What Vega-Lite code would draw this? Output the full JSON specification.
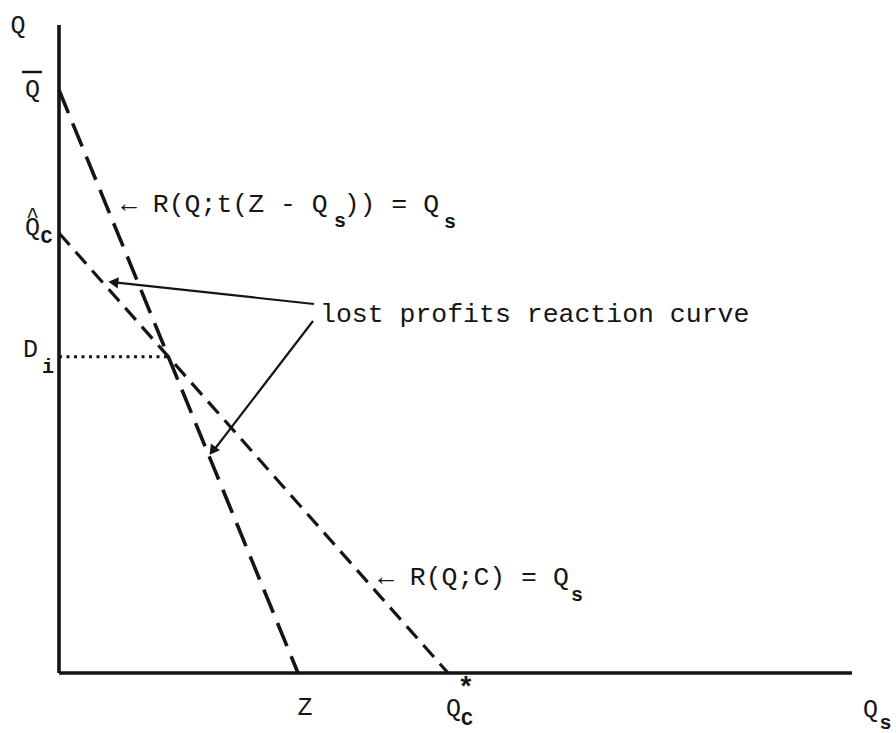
{
  "$schema": "https://vega.github.io/schema/vega-lite/v6.json",
  "width": 896,
  "height": 733,
  "padding": 0,
  "autosize": {"type": "fit", "contains": "padding"},
  "background": "white",
  "config": {
    "view": {"stroke": null},
    "text": {"font": "Liberation Mono", "color": "#161616"}
  },
  "datasets": {
    "axes": [
      {"x": 0, "y": 0, "x2": 0, "y2": 64.8},
      {"x": 0, "y": 0, "x2": 79.3, "y2": 0}
    ],
    "qbar": [{"x": -3.7, "y": 60.1, "x2": -1.7, "y2": 60.1}],
    "tax_curve": [{"x": 0, "y": 58.3}, {"x": 23.9, "y": 0}],
    "cost_curve": [{"x": 0, "y": 44.0}, {"x": 38.9, "y": 0}],
    "di_level": [{"x": 0, "y": 31.63, "x2": 10.93, "y2": 31.63}],
    "pointers": [
      {"x": 25.5, "y": 36.9, "x2": 5.8, "y2": 39.03},
      {"x": 25.4, "y": 35.2, "x2": 15.5, "y2": 22.3}
    ],
    "head_a": [{"x": 5.6, "y": 39.05}],
    "head_b": [{"x": 15.45, "y": 22.35}],
    "captions": [
      {"x": 6.2, "y": 46.1, "text": "← R(Q;t(Z - Q )) = Q"},
      {"x": 26.1, "y": 35.1, "text": "lost profits reaction curve"},
      {"x": 31.9, "y": 8.8, "text": "← R(Q;C) = Q"}
    ],
    "letters": [
      {"x": -4.1, "y": 64.0, "text": "Q"},
      {"x": -2.65, "y": 57.6, "text": "Q"},
      {"x": -2.65, "y": 43.8, "text": "Q"},
      {"x": -2.85, "y": 31.6, "text": "D"},
      {"x": 24.6, "y": -4.2, "text": "Z"},
      {"x": 39.45, "y": -4.3, "text": "Q"},
      {"x": 81.15, "y": -4.4, "text": "Q"}
    ],
    "subs": [
      {"x": 28.1, "y": 44.6, "text": "s"},
      {"x": 39.1, "y": 44.5, "text": "s"},
      {"x": 51.8, "y": 7.2, "text": "s"},
      {"x": -1.25, "y": 43.0, "text": "C"},
      {"x": -1.1, "y": 30.0, "text": "i"},
      {"x": 40.8, "y": -5.2, "text": "C"},
      {"x": 82.65, "y": -5.55, "text": "s"}
    ],
    "hat": [{"x": -2.65, "y": 45.75, "text": "^"}],
    "star": [{"x": 40.7, "y": -1.5, "text": "*"}]
  },
  "encoding": {
    "x": {"field": "x", "type": "quantitative", "scale": {"domain": [-5.9, 83.7], "nice": false, "zero": false}, "axis": null},
    "y": {"field": "y", "type": "quantitative", "scale": {"domain": [-6.0, 67.3], "nice": false, "zero": false}, "axis": null}
  },
  "layer": [
    {
      "data": {"name": "axes"},
      "mark": {"type": "rule", "color": "#151515", "strokeWidth": 3.6},
      "encoding": {"x2": {"field": "x2"}, "y2": {"field": "y2"}}
    },
    {
      "data": {"name": "qbar"},
      "mark": {"type": "rule", "color": "#151515", "strokeWidth": 2.5},
      "encoding": {"x2": {"field": "x2"}, "y2": {"field": "y2"}}
    },
    {
      "data": {"name": "tax_curve"},
      "mark": {"type": "line", "color": "#151515", "strokeWidth": 3.6, "strokeDash": [25, 11]},
      "encoding": {}
    },
    {
      "data": {"name": "cost_curve"},
      "mark": {"type": "line", "color": "#151515", "strokeWidth": 3.2, "strokeDash": [16, 9]},
      "encoding": {}
    },
    {
      "data": {"name": "di_level"},
      "mark": {"type": "rule", "color": "#151515", "strokeWidth": 3, "strokeDash": [3, 4.5]},
      "encoding": {"x2": {"field": "x2"}, "y2": {"field": "y2"}}
    },
    {
      "data": {"name": "pointers"},
      "mark": {"type": "rule", "color": "#151515", "strokeWidth": 2.2},
      "encoding": {"x2": {"field": "x2"}, "y2": {"field": "y2"}}
    },
    {
      "data": {"name": "head_a"},
      "mark": {"type": "point", "shape": "triangle", "filled": true, "color": "#151515", "opacity": 1, "size": 130, "angle": 276.5},
      "encoding": {}
    },
    {
      "data": {"name": "head_b"},
      "mark": {"type": "point", "shape": "triangle", "filled": true, "color": "#151515", "opacity": 1, "size": 130, "angle": 217},
      "encoding": {}
    },
    {
      "data": {"name": "captions"},
      "mark": {"type": "text", "fontSize": 26.5, "align": "left", "baseline": "alphabetic"},
      "encoding": {"text": {"field": "text"}}
    },
    {
      "data": {"name": "letters"},
      "mark": {"type": "text", "fontSize": 25, "align": "center", "baseline": "alphabetic"},
      "encoding": {"text": {"field": "text"}}
    },
    {
      "data": {"name": "subs"},
      "mark": {"type": "text", "fontSize": 20, "fontWeight": "bold", "align": "center", "baseline": "alphabetic"},
      "encoding": {"text": {"field": "text"}}
    },
    {
      "data": {"name": "hat"},
      "mark": {"type": "text", "fontSize": 22, "align": "center", "baseline": "middle"},
      "encoding": {"text": {"field": "text"}}
    },
    {
      "data": {"name": "star"},
      "mark": {"type": "text", "fontSize": 28, "fontWeight": "bold", "align": "center", "baseline": "middle"},
      "encoding": {"text": {"field": "text"}}
    }
  ]
}
